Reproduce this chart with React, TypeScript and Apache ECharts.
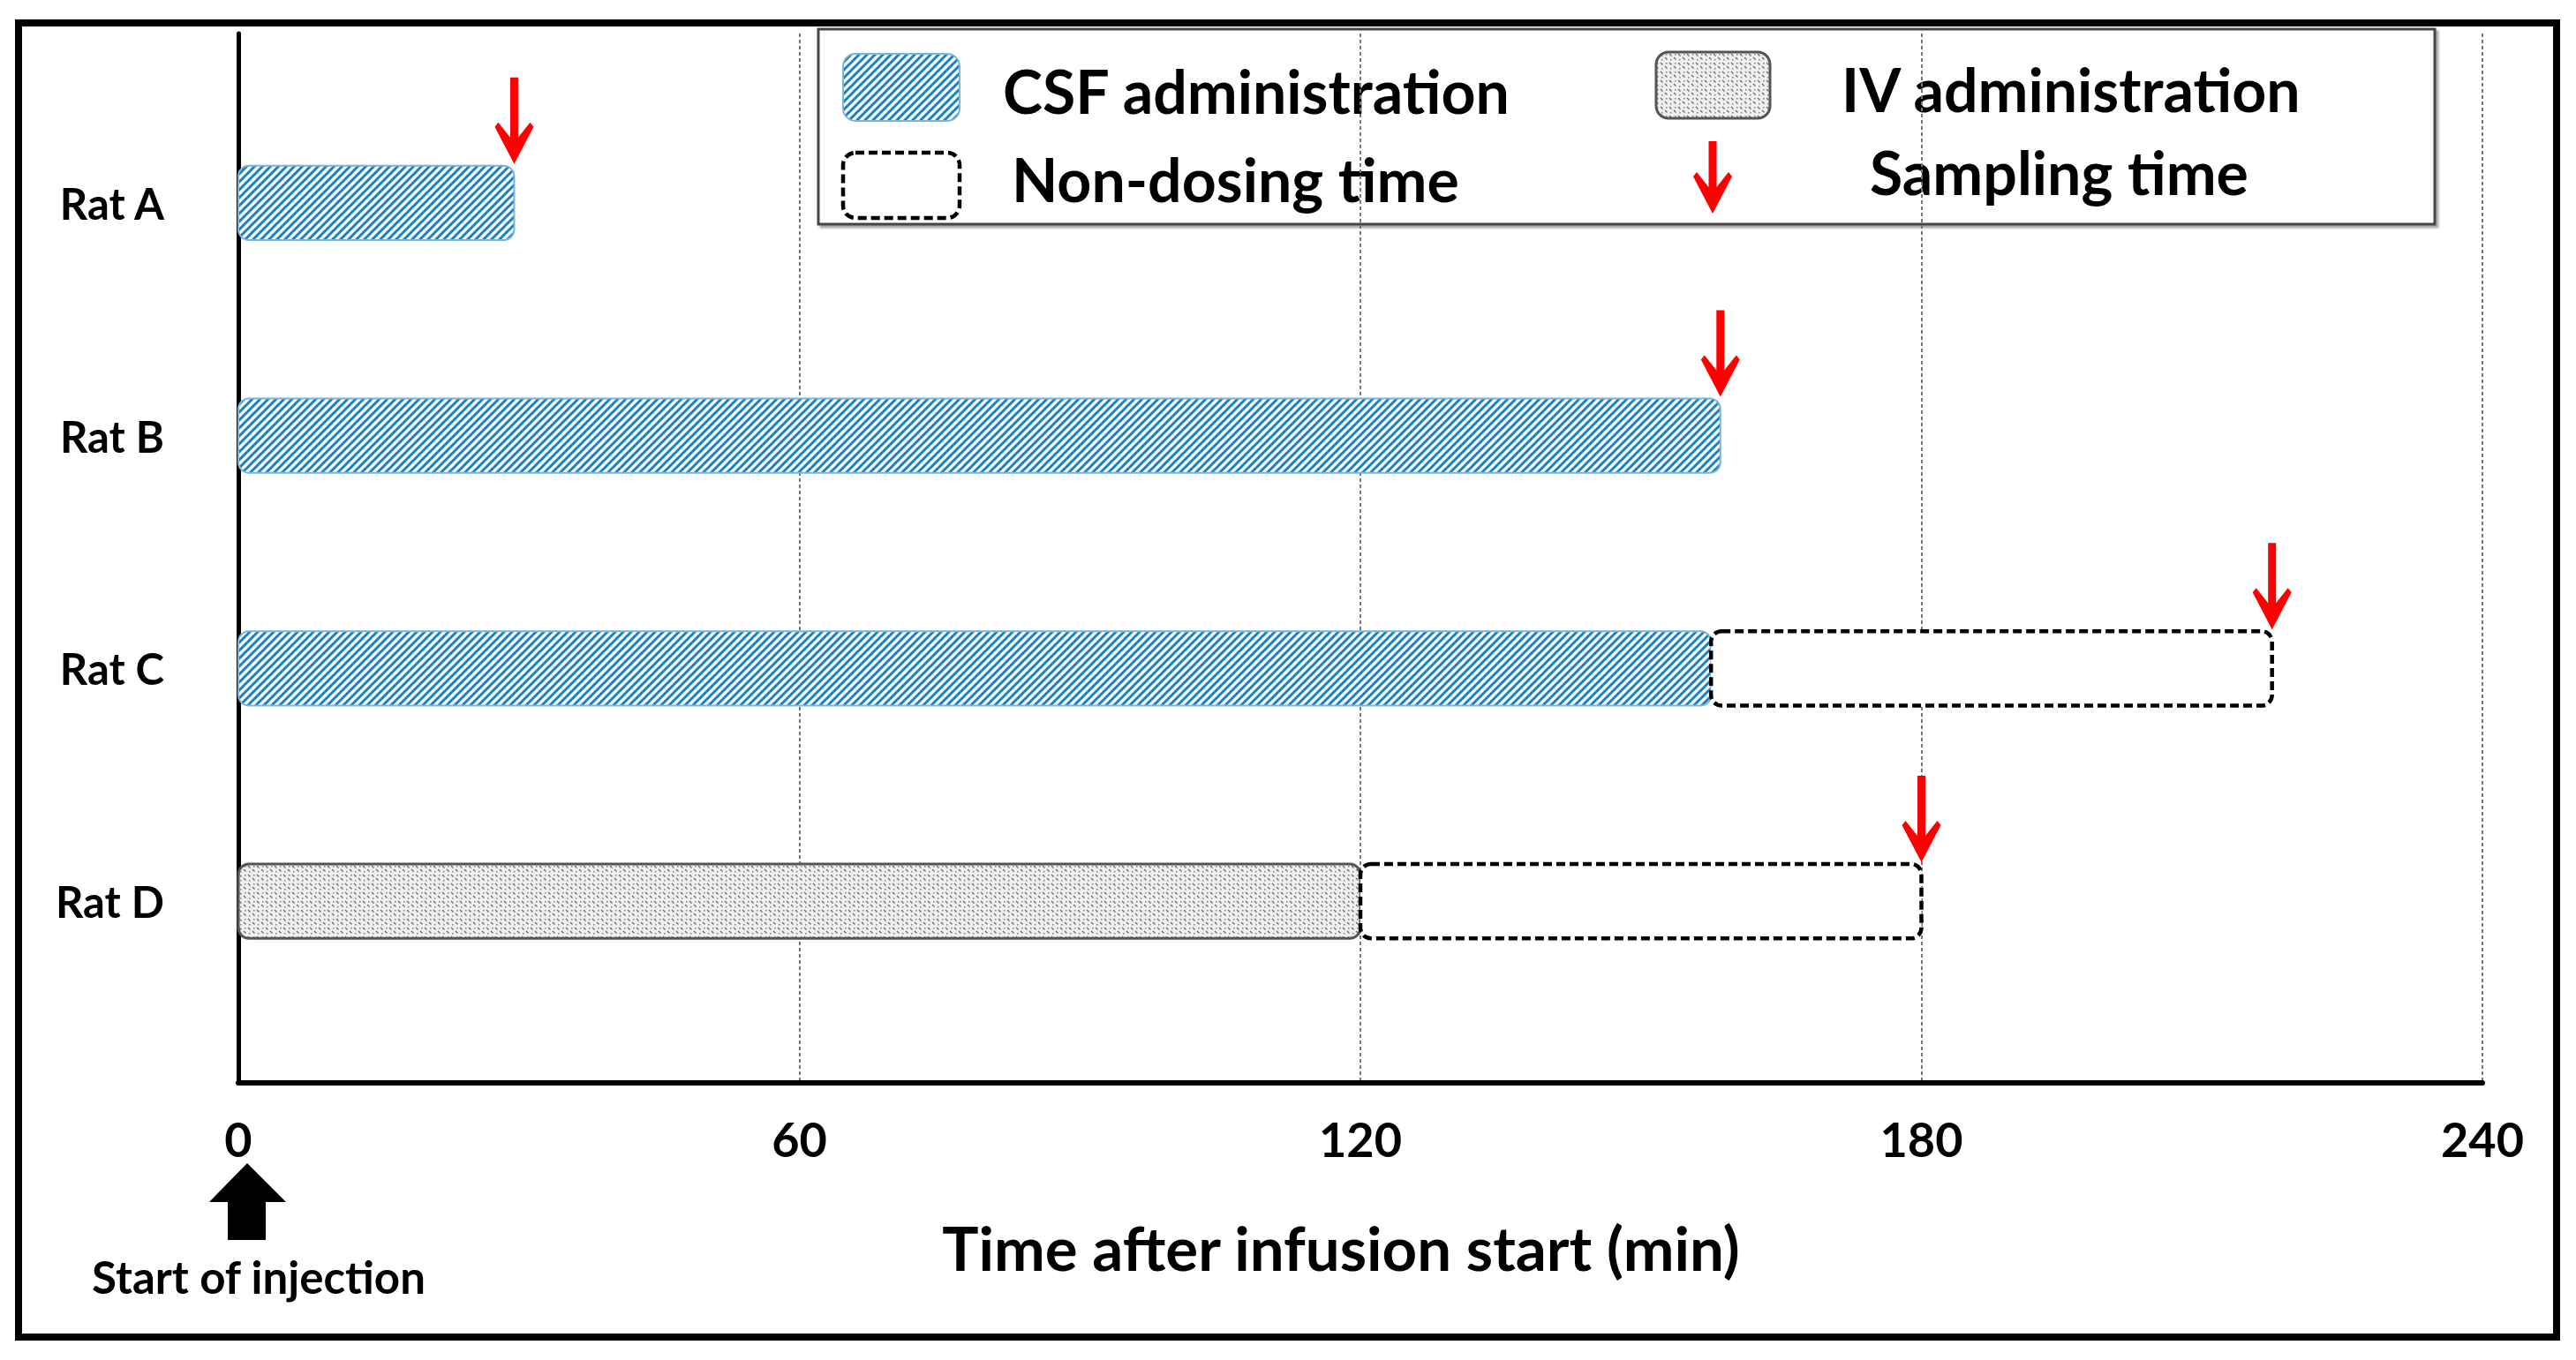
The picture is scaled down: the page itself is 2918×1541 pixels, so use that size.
import React, { useEffect, useRef } from 'react';
import * as echarts from 'echarts';

const rats = ['Rat A', 'Rat B', 'Rat C', 'Rat D'];
const xTickInterval = 60;
const xMin = 0;
const xMax = 240;
// [start (min), end (min), rat index]
const csfAdministration = [[0, 29.5, 0], [0, 158.5, 1], [0, 157.5, 2]];
const ivAdministration = [[0, 120, 3]];
const nonDosingTime = [[157.5, 217.5, 2], [120, 180, 3]];
// [sampling time (min), rat index]
const samplingTime = [[29.5, 0], [158.5, 1], [217.5, 2], [180, 3]];
const legendLabels = ['CSF administration', 'IV administration', 'Non-dosing time', 'Sampling time'];
const axisTitle = 'Time after infusion start (min)';
const startLabel = 'Start of injection';

const FONT = 'Lato';

function makeHatch() {
  const s = 9;
  const c = document.createElement('canvas');
  c.width = s; c.height = s;
  const ctx = c.getContext('2d')!;
  ctx.fillStyle = '#ffffff';
  ctx.fillRect(0, 0, s, s);
  ctx.strokeStyle = '#1580c4';
  ctx.lineWidth = 3.0;
  ctx.beginPath();
  ctx.moveTo(-2, s + 2); ctx.lineTo(s + 2, -2);
  ctx.moveTo(-2, 2); ctx.lineTo(2, -2);
  ctx.moveTo(s - 2, s + 2); ctx.lineTo(s + 2, s - 2);
  ctx.stroke();
  return { image: c, repeat: 'repeat', imageWidth: s, imageHeight: s };
}

function makeSpeckle() {
  const s = 10;
  const c = document.createElement('canvas');
  c.width = s; c.height = s;
  const ctx = c.getContext('2d')!;
  ctx.fillStyle = '#efefef';
  ctx.fillRect(0, 0, s, s);
  ctx.strokeStyle = '#6a6a6a';
  ctx.lineWidth = 1.3;
  ctx.beginPath();
  ctx.moveTo(1, 1); ctx.lineTo(3.5, 3.5);
  ctx.moveTo(6, 5); ctx.lineTo(8.5, 7.5);
  ctx.stroke();
  ctx.fillStyle = '#808080';
  ctx.fillRect(7, 1, 1.5, 1.5);
  ctx.fillRect(2, 7, 1.5, 1.5);
  return { image: c, repeat: 'repeat', imageWidth: s, imageHeight: s };
}

function arrowPoints(x: number, tipY: number, len: number) {
  const sw = 4.5, hw = 22, hl = 42;
  return [
    [x - sw, tipY - len], [x + sw, tipY - len], [x + sw, tipY - 30],
    [x + hw - 4, tipY - hl - 5], [x + hw, tipY - hl],
    [x, tipY],
    [x - hw, tipY - hl], [x - hw + 4, tipY - hl - 5],
    [x - sw, tipY - 30],
  ];
}

export default function App() {
  const ref = useRef<HTMLDivElement>(null);
  useEffect(() => {
    if (!ref.current) return;
    const chart = echarts.init(ref.current, undefined, { renderer: 'svg' });
    const hatch = makeHatch();
    const speckle = makeSpeckle();

    const csfStyle = () => ({ fill: hatch, stroke: '#7ab3dc', lineWidth: 2 });
    const ivStyle = () => ({ fill: speckle, stroke: '#555555', lineWidth: 3 });
    const ndStyle = () => ({ fill: '#ffffff', stroke: '#000000', lineWidth: 4.5, lineDash: [10, 5] });

    const barRender = (styleFn: () => any) => (params: any, api: any) => {
      const s = api.coord([api.value(0), api.value(2)]);
      const e = api.coord([api.value(1), api.value(2)]);
      const h = api.size([0, 1])[1] * 0.32;
      return {
        type: 'rect',
        shape: { x: s[0], y: s[1] - h / 2, width: e[0] - s[0], height: h, r: 12 },
        style: styleFn(),
      };
    };

    const textStyle = (size: number) => ({ fontFamily: FONT, fontWeight: 'bold', fontSize: size, fill: '#000' });

    const option: any = {
      animation: false,
      backgroundColor: '#ffffff',
      grid: [
        { left: 270, right: 106, top: 38, bottom: 314 },
        { left: 270, right: 106, top: 98, bottom: 388 },
      ],
      xAxis: [
        {
          type: 'value', gridIndex: 0, min: xMin, max: xMax, interval: xTickInterval,
          axisLine: { show: true, lineStyle: { color: '#000', width: 6 } },
          axisTick: { show: false },
          axisLabel: { fontFamily: FONT, fontWeight: 'bold', fontSize: 54, color: '#000', margin: 36 },
          splitLine: { show: true, lineStyle: { color: '#777', width: 2, type: [4, 3] } },
          name: axisTitle,
          nameLocation: 'middle',
          nameGap: 152,
          nameTextStyle: { fontFamily: FONT, fontWeight: 'bold', fontSize: 69, color: '#000', padding: [0, 44, 0, 0] },
        },
        { type: 'value', gridIndex: 1, min: xMin, max: xMax, interval: xTickInterval, show: false },
      ],
      yAxis: [
        {
          type: 'value', gridIndex: 0, min: 0, max: 1,
          axisLine: { show: true, lineStyle: { color: '#000', width: 5 } },
          axisTick: { show: false }, axisLabel: { show: false }, splitLine: { show: false },
        },
        {
          type: 'category', gridIndex: 1, data: rats, inverse: true,
          axisLine: { show: false }, axisTick: { show: false }, splitLine: { show: false },
          axisLabel: { fontFamily: FONT, fontWeight: 'bold', fontSize: 49, color: '#000', margin: 84 },
        },
      ],
      series: [
        {
          type: 'custom', name: legendLabels[0], xAxisIndex: 1, yAxisIndex: 1,
          data: csfAdministration, encode: { x: [0, 1], y: 2 }, renderItem: barRender(csfStyle), z: 3,
        },
        {
          type: 'custom', name: legendLabels[1], xAxisIndex: 1, yAxisIndex: 1,
          data: ivAdministration, encode: { x: [0, 1], y: 2 }, renderItem: barRender(ivStyle), z: 3,
        },
        {
          type: 'custom', name: legendLabels[2], xAxisIndex: 1, yAxisIndex: 1,
          data: nonDosingTime, encode: { x: [0, 1], y: 2 }, renderItem: barRender(ndStyle), z: 4,
        },
        {
          type: 'custom', name: legendLabels[3], xAxisIndex: 1, yAxisIndex: 1,
          data: samplingTime, encode: { x: 0, y: 1 }, z: 5,
          renderItem: (params: any, api: any) => {
            const p = api.coord([api.value(0), api.value(1)]);
            const h = api.size([0, 1])[1] * 0.32;
            const tipY = p[1] - h / 2 - 2;
            return { type: 'polygon', shape: { points: arrowPoints(p[0], tipY, 98) }, style: { fill: '#ff0000' } };
          },
        },
      ],
      graphic: [
        {
          type: 'group', z: 100,
          children: [
            {
              type: 'rect', shape: { x: 927, y: 33, width: 1831, height: 221 },
              style: { fill: '#fff', stroke: '#444', lineWidth: 3, shadowColor: 'rgba(0,0,0,0.35)', shadowOffsetX: 3, shadowOffsetY: 3, shadowBlur: 2 },
            },
            { type: 'rect', shape: { x: 955, y: 61, width: 132, height: 76, r: 14 }, style: csfStyle() },
            { type: 'text', x: 1136, y: 102, style: { ...textStyle(68), text: legendLabels[0], verticalAlign: 'middle', align: 'left' } },
            { type: 'rect', shape: { x: 1876, y: 59, width: 129, height: 75, r: 14 }, style: ivStyle() },
            { type: 'text', x: 2086, y: 100, style: { ...textStyle(68), text: legendLabels[1], verticalAlign: 'middle', align: 'left' } },
            { type: 'rect', shape: { x: 955, y: 173, width: 132, height: 74, r: 14 }, style: ndStyle() },
            { type: 'text', x: 1146, y: 202, style: { ...textStyle(68), text: legendLabels[2], verticalAlign: 'middle', align: 'left' } },
            { type: 'polygon', shape: { points: arrowPoints(1940, 242, 82) }, style: { fill: '#ff0000' } },
            { type: 'text', x: 2118, y: 194, style: { ...textStyle(68), text: legendLabels[3], verticalAlign: 'middle', align: 'left' } },
          ],
        },
        {
          type: 'polygon', z: 100,
          shape: { points: [[280, 1318], [324, 1362], [301, 1362], [301, 1405], [258, 1405], [258, 1362], [237, 1362]] },
          style: { fill: '#000' },
        },
        { type: 'text', z: 100, x: 293, y: 1446, style: { ...textStyle(51), text: startLabel, verticalAlign: 'middle', align: 'center' } },
        {
          type: 'rect', z: 101, shape: { x: 21, y: 26, width: 2875, height: 1489 },
          style: { fill: 'none', stroke: '#000', lineWidth: 8 },
        },
      ],
    };
    chart.setOption(option);
    return () => chart.dispose();
  }, []);
  return <div ref={ref} style={{ position: 'fixed', left: 0, top: 0, width: '2918px', height: '1541px' }} />;
}
